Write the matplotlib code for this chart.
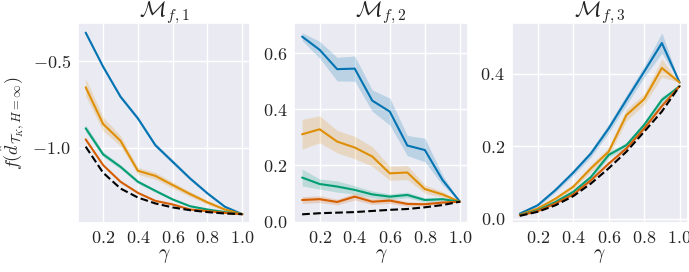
import numpy as np
import matplotlib
matplotlib.use('Agg')
import matplotlib.pyplot as plt
import seaborn as sns

sns.set_theme(style='darkgrid')
plt.rcParams['mathtext.fontset'] = 'cm'
plt.rcParams['font.family'] = 'serif'
plt.rcParams['font.serif'] = ['cmr10', 'DejaVu Serif']
plt.rcParams['axes.formatter.use_mathtext'] = True

gamma = [0.1, 0.2, 0.3, 0.4, 0.5, 0.6, 0.7, 0.8, 0.9, 1.0]
colors = ['#0173b2', '#de8f05', '#029e73', '#d55e00']

# M_{f,1}
m1_blue = [-0.337, -0.533, -0.706, -0.831, -0.985, -1.081, -1.177, -1.263, -1.340, -1.383]
m1_orange = [-0.652, -0.863, -0.960, -1.133, -1.162, -1.215, -1.267, -1.315, -1.356, -1.383]
m1_green = [-0.888, -1.038, -1.110, -1.196, -1.248, -1.298, -1.337, -1.356, -1.371, -1.383]
m1_red = [-0.952, -1.100, -1.196, -1.260, -1.306, -1.327, -1.356, -1.365, -1.375, -1.383]
m1_ref = [-0.994, -1.144, -1.235, -1.287, -1.321, -1.344, -1.360, -1.371, -1.379, -1.383]
m1_err = [
    [0.008, 0.010, 0.012, 0.012, 0.012, 0.012, 0.010, 0.008, 0.006, 0.0],
    [0.050, 0.040, 0.030, 0.020, 0.020, 0.018, 0.015, 0.012, 0.008, 0.0],
    [0.020, 0.015, 0.012, 0.010, 0.008, 0.006, 0.005, 0.004, 0.003, 0.0],
    [0.008, 0.006, 0.005, 0.004, 0.004, 0.003, 0.003, 0.002, 0.002, 0.0],
]

# M_{f,2}
m2_blue = [0.659, 0.612, 0.543, 0.545, 0.431, 0.392, 0.271, 0.255, 0.149, 0.071]
m2_orange = [0.311, 0.329, 0.285, 0.264, 0.232, 0.172, 0.175, 0.116, 0.097, 0.071]
m2_green = [0.157, 0.134, 0.125, 0.113, 0.097, 0.089, 0.095, 0.077, 0.080, 0.071]
m2_red = [0.077, 0.080, 0.070, 0.089, 0.071, 0.075, 0.063, 0.062, 0.068, 0.071]
m2_ref = [0.026, 0.030, 0.032, 0.034, 0.038, 0.042, 0.045, 0.051, 0.059, 0.071]
m2_err = [
    [0.014, 0.030, 0.042, 0.045, 0.038, 0.048, 0.036, 0.042, 0.018, 0.0],
    [0.053, 0.048, 0.040, 0.040, 0.035, 0.025, 0.025, 0.015, 0.010, 0.0],
    [0.030, 0.018, 0.020, 0.015, 0.012, 0.010, 0.010, 0.008, 0.006, 0.0],
    [0.012, 0.012, 0.010, 0.012, 0.010, 0.010, 0.008, 0.006, 0.005, 0.0],
]

# M_{f,3}
m3_blue = [0.014, 0.037, 0.079, 0.127, 0.180, 0.249, 0.328, 0.406, 0.485, 0.376]
m3_orange = [0.011, 0.028, 0.055, 0.088, 0.139, 0.185, 0.286, 0.330, 0.416, 0.376]
m3_green = [0.010, 0.023, 0.046, 0.074, 0.115, 0.176, 0.203, 0.259, 0.328, 0.366]
m3_red = [0.009, 0.021, 0.042, 0.067, 0.106, 0.152, 0.194, 0.249, 0.311, 0.366]
m3_ref = [0.008, 0.019, 0.037, 0.062, 0.097, 0.139, 0.185, 0.240, 0.296, 0.366]
m3_err = [
    [0.002, 0.004, 0.006, 0.008, 0.010, 0.012, 0.014, 0.016, 0.028, 0.0],
    [0.002, 0.003, 0.005, 0.007, 0.010, 0.012, 0.016, 0.015, 0.025, 0.0],
    [0.001, 0.002, 0.003, 0.005, 0.006, 0.008, 0.008, 0.008, 0.010, 0.0],
    [0.001, 0.002, 0.002, 0.003, 0.004, 0.005, 0.005, 0.006, 0.006, 0.0],
]

panels = [
    (r'$\mathcal{M}_{f,1}$', [m1_blue, m1_orange, m1_green, m1_red], m1_ref, m1_err),
    (r'$\mathcal{M}_{f,2}$', [m2_blue, m2_orange, m2_green, m2_red], m2_ref, m2_err),
    (r'$\mathcal{M}_{f,3}$', [m3_blue, m3_orange, m3_green, m3_red], m3_ref, m3_err),
]

fig = plt.figure(figsize=(6.89, 2.72), dpi=100)
rects = [[0.113, 0.180, 0.250, 0.735],
         [0.427, 0.180, 0.252, 0.735],
         [0.743, 0.180, 0.255, 0.735]]
ylims = [(-1.434, -0.282), (-0.005, 0.707), (-0.012, 0.54)]
yticks = [[-1.0, -0.5], [0.0, 0.2, 0.4, 0.6], [0.0, 0.2, 0.4]]

x = np.array(gamma)
for i, (title, series, ref, errs) in enumerate(panels):
    ax = fig.add_axes(rects[i])
    for s, e, c in zip(series, errs, colors):
        s = np.array(s)
        e = np.array(e)
        ax.fill_between(x, s - e, s + e, color=c, alpha=0.2, linewidth=0)
        ax.plot(x, s, color=c, linewidth=1.5)
    ax.plot(x, ref, color='black', linestyle='--', linewidth=1.5)
    ax.set_title(title, fontsize=16, pad=4)
    ax.set_xlabel(r'$\gamma$', fontsize=14, labelpad=1)
    ax.set_xticks([0.2, 0.4, 0.6, 0.8, 1.0])
    ax.set_yticks(yticks[i])
    ax.set_ylim(*ylims[i])
    ax.tick_params(labelsize=13, length=0, pad=5)
    if i == 0:
        ax.set_ylabel(r'$f(\hat{d}_{\mathcal{T}_K,H=\infty})$', fontsize=13)
        ax.yaxis.set_label_coords(-0.30, 0.5)

fig.savefig('out.png', dpi=100)
